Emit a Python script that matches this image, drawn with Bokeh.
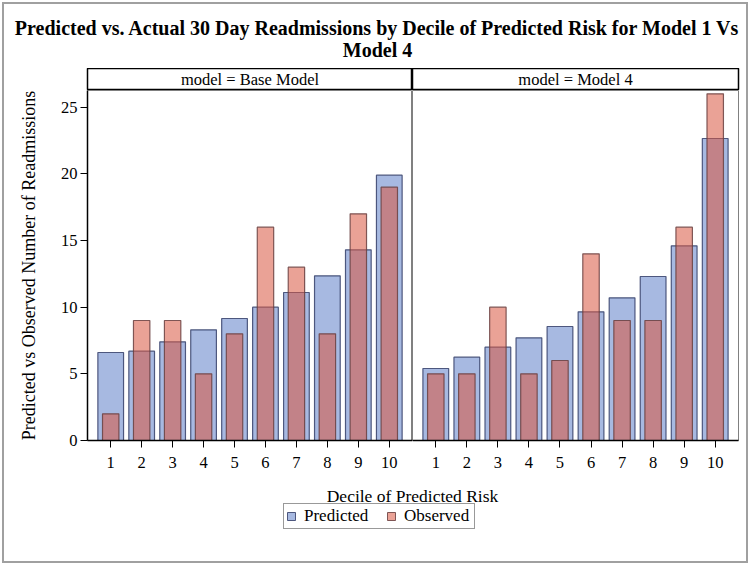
from bokeh.plotting import figure
from bokeh.models import Range1d, FixedTicker, Label, Legend, LegendItem
from bokeh.layouts import column, row
from bokeh.embed import file_html
from bokeh.resources import INLINE

# ---- data ----
deciles = [1, 2, 3, 4, 5, 6, 7, 8, 9, 10]
base_pred = [6.6, 6.7, 7.4, 8.3, 9.15, 10.0, 11.1, 12.35, 14.3, 19.9]
base_obs = [2, 9, 9, 5, 8, 16, 13, 8, 17, 19]
m4_pred = [5.4, 6.25, 7.0, 7.7, 8.55, 9.65, 10.7, 12.3, 14.6, 22.65]
m4_obs = [5, 5, 10, 5, 6, 14, 9, 9, 16, 26]
y_ticks = [0, 5, 10, 15, 20, 25]
panel_names = ["model = Base Model", "model = Model 4"]
series_names = ["Predicted", "Observed"]
title_lines = ["Predicted vs. Actual 30 Day Readmissions by Decile of Predicted Risk for Model 1 Vs",
               "Model 4"]
y_label = "Predicted vs Observed Number of Readmissions"
x_label = "Decile of Predicted Risk"

FONT = "Liberation Serif"
PRED_FILL = "#4f74c4"
OBS_FILL = "#d9553f"
PRED_LINE = "#35406a"
OBS_LINE = "#6a4040"

TOTAL_W = 742
LEFT_W = 408
RIGHT_W = TOTAL_W - LEFT_W
LEFT_B = 83
RIGHT_B = 8

yr = Range1d(0, 26.25)


def blank(width, height):
    p = figure(width=width, height=height, x_range=Range1d(0, width), y_range=Range1d(0, height),
               x_axis_location=None, y_axis_location=None, output_backend="svg",
               toolbar_location=None, min_border=0)
    p.grid.visible = False
    p.outline_line_color = None
    p.background_fill_color = "white"
    p.border_fill_color = "white"
    return p


# ---- title ----
TITLE_H = 64
tf = blank(TOTAL_W, TITLE_H)
tf.add_layout(Label(x=373, y=41, text=title_lines[0], text_font=FONT, text_font_size="20px",
                    text_font_style="bold", text_color="black",
                    text_align="center", text_baseline="middle"))
tf.add_layout(Label(x=373, y=19, text=title_lines[1], text_font=FONT, text_font_size="20px",
                    text_font_style="bold", text_color="black",
                    text_align="center", text_baseline="middle"))


# ---- headers ----
def header(text, width, left):
    h = figure(width=width, height=22, x_range=Range1d(0, 1), y_range=Range1d(0, 1),
               x_axis_location=None, y_axis_location=None, output_backend="svg",
               toolbar_location=None, min_border_top=0, min_border_bottom=0,
               min_border_left=LEFT_B if left else 0, min_border_right=0 if left else RIGHT_B)
    h.grid.visible = False
    h.outline_line_color = "black"
    h.outline_line_width = 1.5
    h.add_layout(Label(x=0.5, y=0.5, text=text, text_font=FONT, text_font_size="16.5px",
                       text_color="black", text_align="center", text_baseline="middle"))
    return h


hL = header(panel_names[0], LEFT_W, True)
hR = header(panel_names[1], RIGHT_W, False)


# ---- panels ----
def panel(pred, obs, left):
    p = figure(width=LEFT_W if left else RIGHT_W, height=390,
               x_range=Range1d(0.25, 10.75), y_range=yr,
               y_axis_location="left" if left else None,
               output_backend="svg", toolbar_location=None,
               min_border_top=0, min_border_bottom=40,
               min_border_left=LEFT_B if left else 0, min_border_right=0 if left else RIGHT_B)
    p.grid.visible = False
    p.outline_line_color = "#808080"
    p.outline_line_width = 1
    p.vbar(x=deciles, top=pred, width=0.83, bottom=0, fill_color=PRED_FILL, fill_alpha=0.5,
           line_color=PRED_LINE, line_alpha=0.85, line_width=1.2)
    p.vbar(x=deciles, top=obs, width=0.53, bottom=0, fill_color=OBS_FILL, fill_alpha=0.55,
           line_color=OBS_LINE, line_alpha=0.85, line_width=1.2)
    ax = p.xaxis[0]
    ax.ticker = FixedTicker(ticks=deciles)
    ax.major_label_text_font = FONT
    ax.major_label_text_font_size = "16.5px"
    ax.major_label_text_color = "black"
    ax.major_tick_out = 7
    ax.major_tick_in = 0
    ax.minor_tick_line_color = None
    ax.major_label_standoff = 9
    ax.axis_line_color = "black"
    ax.axis_line_width = 1.5
    ax.major_tick_line_color = "black"
    if left:
        ay = p.yaxis[0]
        ay.ticker = FixedTicker(ticks=y_ticks)
        ay.major_label_text_font = FONT
        ay.major_label_text_font_size = "16.5px"
        ay.major_label_text_color = "black"
        ay.major_tick_out = 7
        ay.major_tick_in = 0
        ay.minor_tick_line_color = None
        ay.major_label_standoff = 3
        ay.axis_line_color = "black"
        ay.axis_line_width = 1.5
        ay.major_tick_line_color = "black"
        ay.axis_label = y_label
        ay.axis_label_text_font = FONT
        ay.axis_label_text_font_size = "18px"
        ay.axis_label_text_font_style = "normal"
        ay.axis_label_text_color = "black"
        ay.axis_label_standoff = 19
    return p


pL = panel(base_pred, base_obs, True)
pR = panel(m4_pred, m4_obs, False)

# ---- bottom: x label + legend ----
BOT_H = 81
bf = blank(TOTAL_W, BOT_H)
bf.add_layout(Label(x=408, y=BOT_H - 15, text=x_label, text_font=FONT, text_font_size="17.5px",
                    text_color="black", text_align="center", text_baseline="middle"))
# legend-only renderers (placed outside the visible range)
r1 = bf.vbar(x=[-100], top=[0], width=1, fill_color=PRED_FILL, fill_alpha=0.5,
             line_color=PRED_LINE, line_alpha=0.85, line_width=1)
r2 = bf.vbar(x=[-100], top=[0], width=1, fill_color=OBS_FILL, fill_alpha=0.55,
             line_color=OBS_LINE, line_alpha=0.85, line_width=1)
leg = Legend(items=[LegendItem(label=series_names[0], renderers=[r1]),
                    LegendItem(label=series_names[1], renderers=[r2])],
             orientation="horizontal", location=(279, BOT_H - 49),
             glyph_width=10, glyph_height=10, padding=2, spacing=14, label_standoff=8,
             label_height=10, label_width=68, margin=0,
             label_text_font=FONT, label_text_font_size="17px", label_text_color="black",
             label_text_baseline="middle",
             border_line_color="#333333", border_line_width=1.5,
             background_fill_color="white", background_fill_alpha=1)
bf.add_layout(leg, "center")

layout = column(tf, row(hL, hR), row(pL, pR), bf, margin=4,
                styles={"outline": "2px solid #a0a0a0"})

open("out.html", "w").write(file_html(layout, INLINE))
